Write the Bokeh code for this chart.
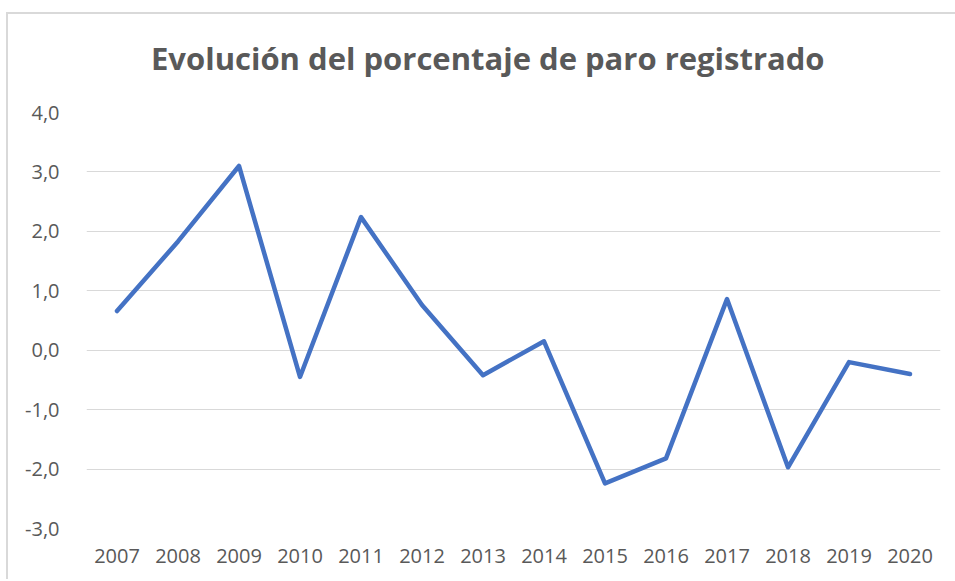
from bokeh.plotting import figure
from bokeh.models import FactorRange, Range1d, FixedTicker, CustomJSTickFormatter, Div
from bokeh.layouts import column
from bokeh.embed import file_html
from bokeh.resources import INLINE

years = ["2007", "2008", "2009", "2010", "2011", "2012", "2013",
         "2014", "2015", "2016", "2017", "2018", "2019", "2020"]
values = [0.66, 1.83, 3.10, -0.45, 2.24, 0.76, -0.42,
          0.15, -2.24, -1.82, 0.86, -1.97, -0.20, -0.40]
y_ticks = [-3, -2, -1, 0, 1, 2, 3, 4]
title_text = "Evolución del porcentaje de paro registrado"

TEXT = "#595959"
FONT = "Open Sans"

title = Div(text=title_text, width=945, height=72,
            styles={"font-family": FONT, "font-size": "31px", "font-weight": "bold",
                    "color": TEXT, "line-height": "78px", "padding-left": "138px",
                    "white-space": "nowrap"})

p = figure(width=945, height=483, x_range=FactorRange(*years, range_padding=0),
           y_range=Range1d(-3, 4), output_backend="svg", toolbar_location=None,
           min_border_left=78, min_border_right=13, min_border_top=16,
           min_border_bottom=51)

p.line(x=years, y=values, line_color="#4472C4", line_width=4.5,
       line_join="round", line_cap="round")

p.outline_line_color = None
p.xgrid.grid_line_color = None
p.ygrid.grid_line_color = "#d9d9d9"
p.ygrid.grid_line_width = 1
p.yaxis.ticker = FixedTicker(ticks=y_ticks)
p.yaxis.formatter = CustomJSTickFormatter(code="return tick.toFixed(1).replace('.', ',');")

for ax in (p.xaxis[0], p.yaxis[0]):
    ax.axis_line_color = None
    ax.major_tick_line_color = None
    ax.minor_tick_line_color = None
    ax.major_label_text_font = FONT
    ax.major_label_text_font_size = "20px"
    ax.major_label_text_color = TEXT
p.yaxis.major_label_standoff = 21
p.xaxis.major_label_standoff = 14

layout = column(title, p, spacing=0)
layout.styles = {"border-left": "2px solid #d9d9d9", "border-top": "2px solid #d9d9d9",
                 "margin-left": "6px", "margin-top": "12px"}

open("out.html", "w").write(file_html(layout, INLINE))
